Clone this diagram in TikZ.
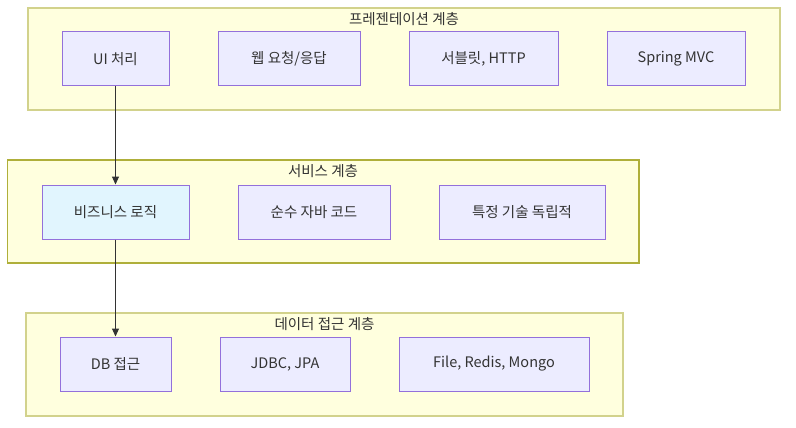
\documentclass[tikz,border=0pt]{standalone}
\usepackage{fontspec}
\setmainfont{Noto Sans CJK KR}
\usetikzlibrary{arrows.meta}

\definecolor{layerfill}{HTML}{FFFFDE}
\definecolor{layerline}{HTML}{D2D28C}
\definecolor{midline}{HTML}{AFAF3A}
\definecolor{boxfill}{HTML}{ECECFF}
\definecolor{bizfill}{HTML}{E1F5FE}
\definecolor{boxline}{HTML}{9370DB}
\definecolor{ink}{HTML}{333333}

\begin{document}
\begin{tikzpicture}[x=1pt, y=-1pt,
  layer/.style={draw=layerline, fill=layerfill, line width=1.6pt},
  title/.style={text=ink, font=\fontsize{14.5}{16}\selectfont, inner sep=0pt},
  box/.style={draw=boxline, fill=boxfill, line width=1pt, text=ink,
    font=\fontsize{14.5}{16}\selectfont, minimum height=54pt, inner sep=0pt},
  link/.style={draw=ink, line width=1pt, -{Triangle[length=8pt, width=7pt]}}]
\useasboundingbox (0,0) rectangle (796,428);

\draw[layer] (28,8) rectangle (780,110);
\node[title] (t1) at (404,19) {프레젠테이션 계층};
\node[box, minimum width=107pt] (ui) at (115.5,59) {UI 처리};
\node[box, minimum width=142pt] (web) at (289,59) {웹 요청/응답};
\node[box, minimum width=149pt] (servlet) at (483.5,59) {서블릿, HTTP};
\node[box, minimum width=138pt] (mvc) at (676,59) {Spring MVC};

\draw[layer, draw=midline, line width=1.1pt] (7.5,160) rectangle (639,263);
\node[title] (t2) at (323,171) {서비스 계층};
\node[box, fill=bizfill, minimum width=147pt] (biz) at (115.5,212) {비즈니스 로직};
\node[box, minimum width=152pt] (java) at (314,212) {순수 자바 코드};
\node[box, minimum width=166pt] (indep) at (522,212) {특정 기술 독립적};

\draw[layer] (26,313) rectangle (623,416);
\node[title] (t3) at (324.5,324) {데이터 접근 계층};
\node[box, minimum width=111pt] (db) at (115.5,364) {DB 접근};
\node[box, minimum width=130pt] (jdbc) at (285,364) {JDBC, JPA};
\node[box, minimum width=190pt] (file) at (494,364) {File, Redis, Mongo};

\draw[link] (ui) -- (biz);
\draw[link] (biz) -- (db);

\end{tikzpicture}
\end{document}
